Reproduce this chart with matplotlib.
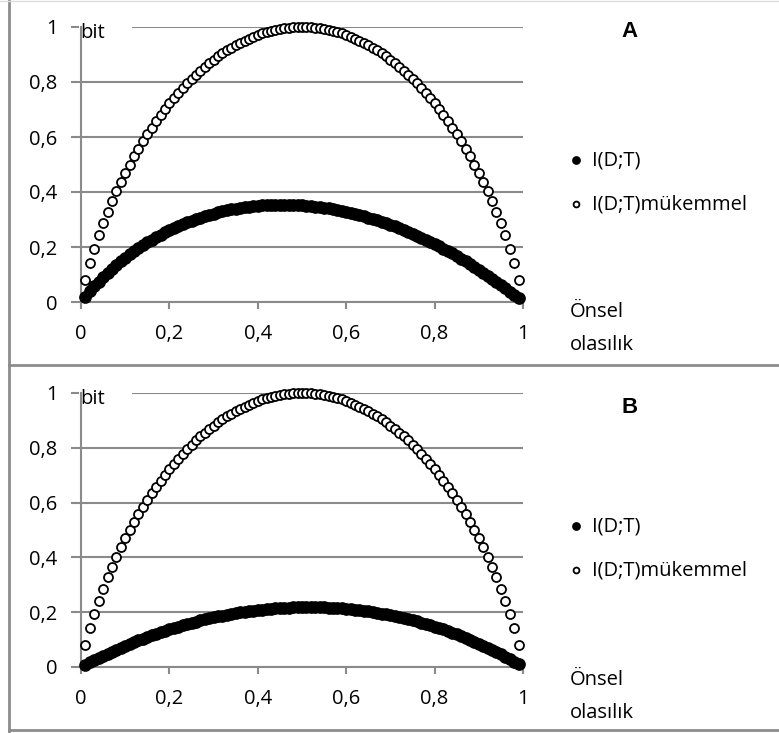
import matplotlib
matplotlib.use("Agg")
import matplotlib.pyplot as plt
from matplotlib.lines import Line2D
from matplotlib.patches import Rectangle

plt.rcParams["font.family"] = ["Open Sans", "DejaVu Sans"]

# prior probability 0.01 .. 0.99
prior = [round(0.01 * i, 2) for i in range(1, 100)]

# I(D;T) for a perfect test (same in both panels)
perfect = [
    0.0808, 0.1414, 0.1944, 0.2423, 0.2864, 0.3274, 0.3659, 0.4022, 0.4365, 0.4690,
    0.4999, 0.5294, 0.5574, 0.5842, 0.6098, 0.6343, 0.6577, 0.6801, 0.7015, 0.7219,
    0.7415, 0.7602, 0.7780, 0.7950, 0.8113, 0.8267, 0.8415, 0.8555, 0.8687, 0.8813,
    0.8932, 0.9044, 0.9149, 0.9248, 0.9341, 0.9427, 0.9507, 0.9580, 0.9648, 0.9710,
    0.9765, 0.9815, 0.9858, 0.9896, 0.9928, 0.9954, 0.9974, 0.9988, 0.9997, 1.0000,
    0.9997, 0.9988, 0.9974, 0.9954, 0.9928, 0.9896, 0.9858, 0.9815, 0.9765, 0.9710,
    0.9648, 0.9580, 0.9507, 0.9427, 0.9341, 0.9248, 0.9149, 0.9044, 0.8932, 0.8813,
    0.8687, 0.8555, 0.8415, 0.8267, 0.8113, 0.7950, 0.7780, 0.7602, 0.7415, 0.7219,
    0.7015, 0.6801, 0.6577, 0.6343, 0.6098, 0.5842, 0.5574, 0.5294, 0.4999, 0.4690,
    0.4365, 0.4022, 0.3659, 0.3274, 0.2864, 0.2423, 0.1944, 0.1414, 0.0808,
]

# panel A test
info_a = [
    0.0200, 0.0389, 0.0569, 0.0739, 0.0902, 0.1054, 0.1200, 0.1341, 0.1476, 0.1606,
    0.1728, 0.1845, 0.1958, 0.2066, 0.2169, 0.2266, 0.2359, 0.2448, 0.2533, 0.2613,
    0.2689, 0.2762, 0.2831, 0.2896, 0.2958, 0.3016, 0.3071, 0.3122, 0.3170, 0.3215,
    0.3257, 0.3296, 0.3332, 0.3365, 0.3395, 0.3422, 0.3446, 0.3467, 0.3485, 0.3501,
    0.3514, 0.3524, 0.3532, 0.3537, 0.3540, 0.3540, 0.3537, 0.3532, 0.3524, 0.3515,
    0.3502, 0.3487, 0.3469, 0.3449, 0.3427, 0.3402, 0.3374, 0.3344, 0.3312, 0.3278,
    0.3242, 0.3203, 0.3162, 0.3118, 0.3072, 0.3024, 0.2974, 0.2921, 0.2866, 0.2808,
    0.2748, 0.2686, 0.2622, 0.2555, 0.2486, 0.2415, 0.2342, 0.2266, 0.2188, 0.2108,
    0.2026, 0.1941, 0.1854, 0.1765, 0.1672, 0.1578, 0.1481, 0.1382, 0.1280, 0.1175,
    0.1069, 0.0961, 0.0850, 0.0736, 0.0619, 0.0499, 0.0377, 0.0254, 0.0129,
]

# panel B test
info_b = [
    0.0086, 0.0170, 0.0252, 0.0333, 0.0412, 0.0489, 0.0564, 0.0637, 0.0709, 0.0779,
    0.0846, 0.0912, 0.0976, 0.1038, 0.1098, 0.1158, 0.1216, 0.1272, 0.1326, 0.1378,
    0.1429, 0.1478, 0.1525, 0.1570, 0.1614, 0.1657, 0.1698, 0.1737, 0.1774, 0.1810,
    0.1845, 0.1878, 0.1909, 0.1938, 0.1964, 0.1990, 0.2014, 0.2037, 0.2058, 0.2077,
    0.2095, 0.2111, 0.2126, 0.2139, 0.2150, 0.2160, 0.2168, 0.2175, 0.2180, 0.2183,
    0.2184, 0.2183, 0.2181, 0.2178, 0.2174, 0.2168, 0.2160, 0.2150, 0.2138, 0.2123,
    0.2108, 0.2091, 0.2072, 0.2052, 0.2030, 0.2006, 0.1980, 0.1952, 0.1922, 0.1891,
    0.1858, 0.1823, 0.1786, 0.1748, 0.1708, 0.1666, 0.1622, 0.1576, 0.1527, 0.1476,
    0.1424, 0.1370, 0.1313, 0.1254, 0.1193, 0.1130, 0.1065, 0.0998, 0.0928, 0.0856,
    0.0782, 0.0705, 0.0626, 0.0544, 0.0460, 0.0373, 0.0283, 0.0192, 0.0098,
]

x_ticks = [0, 0.2, 0.4, 0.6, 0.8, 1]
x_labels = ["0", "0,2", "0,4", "0,6", "0,8", "1"]
y_ticks = [0, 0.2, 0.4, 0.6, 0.8, 1]
y_labels = ["0", "0,2", "0,4", "0,6", "0,8", "1"]

panels = [("A", info_a), ("B", info_b)]

GRID = "#8a8a8a"
TXT = "#000000"
FS = 14.5

fig = plt.figure(figsize=(7.79, 7.33), dpi=100)

# axes positions in figure fractions
boxes = [
    (81 / 779, (733 - 302) / 733, 442 / 779, 275 / 733),
    (81 / 779, (733 - 667) / 733, 442 / 779, 274 / 733),
]
label_y = [(0.964, -0.055, -0.175, 0.434), (0.927, -0.066, -0.186, 0.432)]

for (name, info), box, (ly, on1, on2, legy) in zip(panels, boxes, label_y):
    ax = fig.add_axes(box)
    ax.set_xlim(0, 1)
    ax.set_ylim(0, 1)
    ax.set_axisbelow(True)
    ax.grid(axis="y", color=GRID, lw=1.5)
    for s in ["top", "right"]:
        ax.spines[s].set_visible(False)
    for s in ["left", "bottom"]:
        ax.spines[s].set_color(GRID)
        ax.spines[s].set_linewidth(1.5)
    ax.set_xticks(x_ticks, x_labels)
    ax.set_yticks(y_ticks, y_labels)
    ax.tick_params(axis="x", direction="out", length=5, width=1.5, color=GRID,
                   pad=11, labelsize=FS, labelcolor=TXT)
    ax.tick_params(axis="y", direction="out", length=7, width=1.5, color=GRID,
                   pad=10, labelsize=FS, labelcolor=TXT)

    ax.scatter(prior, info, s=66, color="black", zorder=3, clip_on=False,
               label="I(D;T)")
    ax.scatter(prior, perfect, s=42, facecolor="white", edgecolor="black",
               linewidth=1.3, zorder=4, clip_on=False, label="I(D;T)mükemmel")

    # white box behind the "bit" unit label
    ax.add_patch(Rectangle((-0.004, 0.976), 0.12, 0.07, transform=ax.transAxes,
                           facecolor="white", edgecolor="none", zorder=2,
                           clip_on=False))
    ax.text(-0.002, 0.96, "bit", transform=ax.transAxes, fontsize=FS,
            color=TXT, ha="left", va="baseline", zorder=5)

    ax.text(1.24, ly, name, transform=ax.transAxes, fontsize=16,
            fontweight="bold", family=["Liberation Sans", "DejaVu Sans"],
            color=TXT, ha="center", va="baseline")
    ax.text(1.106, on1, "Önsel", transform=ax.transAxes, fontsize=FS,
            color=TXT, ha="left", va="baseline")
    ax.text(1.106, on2, "olasılık", transform=ax.transAxes, fontsize=FS,
            color=TXT, ha="left", va="baseline")

    leg = ax.legend(loc="center left", bbox_to_anchor=(1.104, legy),
                    frameon=False, fontsize=FS, borderpad=0, borderaxespad=0,
                    handlelength=0.7, handletextpad=0.45, labelspacing=1.2,
                    markerscale=0.65)
    for t in leg.get_texts():
        t.set_color(TXT)

# outer frame lines
frame = dict(color="#8c8c8c", lw=2, transform=fig.transFigure)
fig.add_artist(Line2D([9 / 779, 9 / 779], [0, 1], **frame))
fig.add_artist(Line2D([9 / 779, 1], [1 - 365 / 733, 1 - 365 / 733], **frame))
fig.add_artist(Line2D([9 / 779, 1], [1 - 730 / 733, 1 - 730 / 733], **frame))
fig.add_artist(Line2D([0, 1], [1 - 0.5 / 733, 1 - 0.5 / 733], color="#dddddd",
                      lw=1, transform=fig.transFigure))

fig.savefig("out.png", dpi=100)
plt.close(fig)
